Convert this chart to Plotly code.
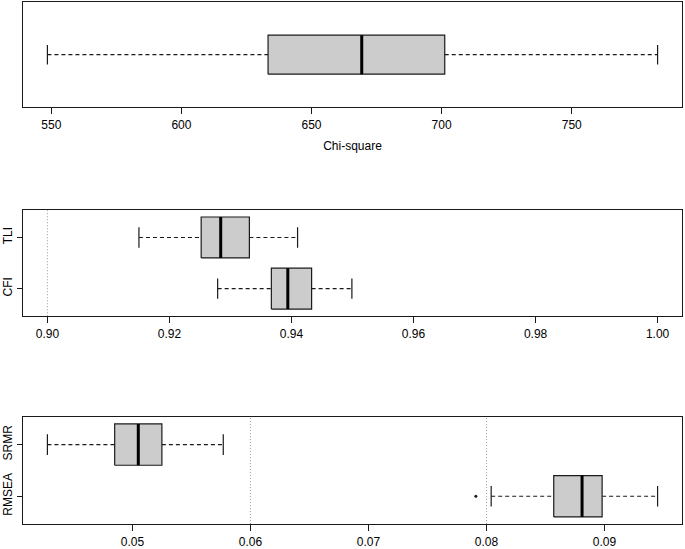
import plotly.graph_objects as go

# five-number summaries: lower whisker, Q1, median, Q3, upper whisker
chi_labels = ["Chi-square"]
chi_stats = [[548.5, 633.3, 669.3, 701.2, 783.0]]
chi_outliers = [[]]

inc_labels = ["CFI", "TLI"]
inc_stats = [
    [0.9279, 0.9367, 0.9394, 0.9433, 0.9499],
    [0.9150, 0.9252, 0.9284, 0.9331, 0.9410],
]
inc_outliers = [[], []]
inc_xlim = [0.90, 1.00]
inc_cutoffs = [0.90]

err_labels = ["RMSEA", "SRMR"]
err_stats = [
    [0.0804, 0.0857, 0.0881, 0.0898, 0.0945],
    [0.0428, 0.0485, 0.0505, 0.0525, 0.0577],
]
err_outliers = [[0.0791], []]
err_cutoffs = [0.06, 0.08]

FONT = "Liberation Sans, Arial, sans-serif"
FILL = "#CCCCCC"
EDGE = "#1a1a1a"


def r_range(lo, hi):
    pad = 0.04 * (hi - lo)
    return [lo - pad, hi + pad]


def add_boxes(fig, stats, outliers, half, xa, ya):
    for i, (lo, q1, med, q3, hi) in enumerate(stats):
        y = i + 1
        cap = half / 2
        # dashed whiskers
        fig.add_trace(go.Scatter(
            x=[lo, q1, None, q3, hi], y=[y, y, None, y, y], mode="lines",
            line=dict(color=EDGE, width=1.2, dash="4px,3px"),
            xaxis=xa, yaxis=ya, hoverinfo="skip"))
        # staples
        fig.add_trace(go.Scatter(
            x=[lo, lo, None, hi, hi], y=[y - cap, y + cap, None, y - cap, y + cap],
            mode="lines", line=dict(color=EDGE, width=1.2),
            xaxis=xa, yaxis=ya, hoverinfo="skip"))
        # box
        fig.add_trace(go.Scatter(
            x=[q1, q3, q3, q1, q1], y=[y - half, y - half, y + half, y + half, y - half],
            mode="lines", fill="toself", fillcolor=FILL,
            line=dict(color=EDGE, width=1.2),
            xaxis=xa, yaxis=ya, hoverinfo="skip"))
        # median
        fig.add_trace(go.Scatter(
            x=[med, med], y=[y - half, y + half], mode="lines",
            line=dict(color="black", width=3),
            xaxis=xa, yaxis=ya, hoverinfo="skip"))
        if outliers[i]:
            fig.add_trace(go.Scatter(
                x=outliers[i], y=[y] * len(outliers[i]), mode="markers",
                marker=dict(color=EDGE, size=3),
                xaxis=xa, yaxis=ya, hoverinfo="skip"))


def add_cutoffs(fig, cutoffs, xa, ya, n):
    for c in cutoffs:
        fig.add_trace(go.Scatter(
            x=[c, c], y=[0.46, n + 0.54], mode="lines",
            line=dict(color="#9a9a9a", width=1, dash="1px,2px"),
            xaxis=xa, yaxis=ya, hoverinfo="skip"))


fig = go.Figure()

add_cutoffs(fig, inc_cutoffs, "x2", "y2", len(inc_labels))
add_cutoffs(fig, err_cutoffs, "x3", "y3", len(err_labels))
add_boxes(fig, chi_stats, chi_outliers, 0.2, "x", "y")
add_boxes(fig, inc_stats, inc_outliers, 0.4, "x2", "y2")
add_boxes(fig, err_stats, err_outliers, 0.4, "x3", "y3")

chi_all = [v for s in chi_stats for v in s] + [v for o in chi_outliers for v in o]
err_all = [v for s in err_stats for v in s] + [v for o in err_outliers for v in o]

W, H = 685, 549
xdom = [23 / W, 682 / W]
common_x = dict(showline=True, mirror=True, linecolor=EDGE, linewidth=1,
                ticks="outside", ticklen=6, tickcolor=EDGE, showgrid=False,
                zeroline=False, tickfont=dict(family=FONT, size=12, color="black"))
common_y = dict(showline=True, mirror=True, linecolor=EDGE, linewidth=1,
                showgrid=False, zeroline=False,
                tickfont=dict(family=FONT, size=12, color="black"))

fig.update_layout(
    width=W, height=H,
    margin=dict(l=0, r=0, t=0, b=0),
    plot_bgcolor="white", paper_bgcolor="white",
    showlegend=False,
    font=dict(family=FONT, size=12, color="black"),
    xaxis=dict(domain=xdom, anchor="y", range=r_range(min(chi_all), max(chi_all)),
               tick0=550, dtick=50,
               title=dict(text=chi_labels[0], font=dict(family=FONT, size=12), standoff=10),
               **common_x),
    yaxis=dict(domain=[1 - 108 / H, 1 - 2 / H], anchor="x",
               range=[0.46, len(chi_labels) + 0.54], showticklabels=False, ticks="",
               **common_y),
    xaxis2=dict(domain=xdom, anchor="y2", range=r_range(*inc_xlim),
                tick0=0.90, dtick=0.02, tickformat=".2f", **common_x),
    yaxis2=dict(domain=[1 - 318 / H, 1 - 211 / H], anchor="x2",
                range=[0.46, len(inc_labels) + 0.54],
                tickvals=list(range(1, len(inc_labels) + 1)), ticktext=inc_labels,
                tickangle=-90, ticks="outside", ticklen=5, tickcolor=EDGE,
                **common_y),
    xaxis3=dict(domain=xdom, anchor="y3", range=r_range(min(err_all), max(err_all)),
                tick0=0.05, dtick=0.01, tickformat=".2f", **common_x),
    yaxis3=dict(domain=[1 - 527 / H, 1 - 419 / H], anchor="x3",
                range=[0.46, len(err_labels) + 0.54],
                tickvals=list(range(1, len(err_labels) + 1)), ticktext=err_labels,
                tickangle=-90, ticks="outside", ticklen=5, tickcolor=EDGE,
                **common_y),
)

# the page's default body margin would push the figure 8px down/right
fig.write_html("out.html", config={"displayModeBar": False},
               post_script="document.body.style.margin='0';")
